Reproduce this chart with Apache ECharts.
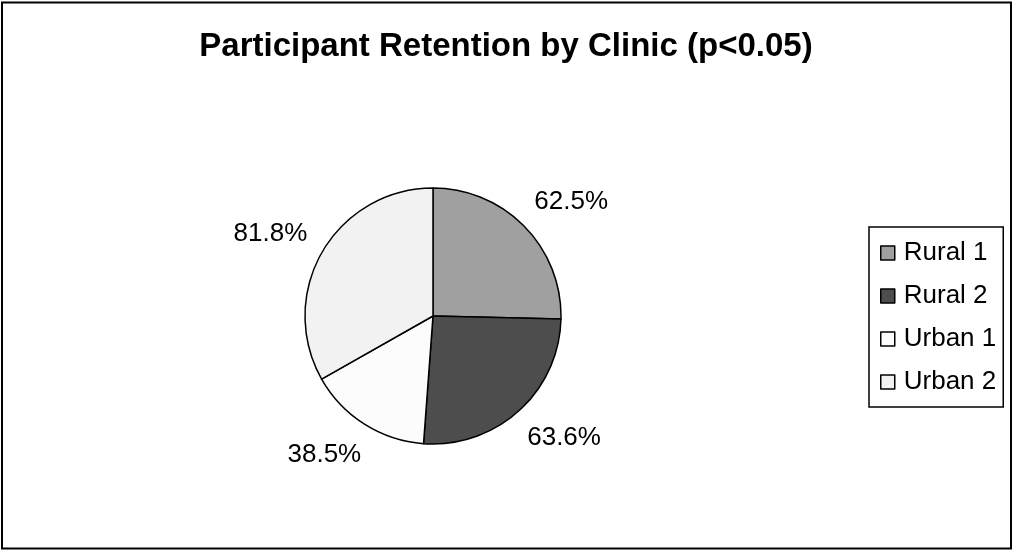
<!DOCTYPE html>
<html>
<head>
<meta charset="utf-8">
<title>Participant Retention by Clinic</title>
<script src="https://cdn.jsdelivr.net/npm/echarts@6/dist/echarts.min.js"></script>
<style>
  html, body { margin: 0; padding: 0; background: #fff; }
  #chart { width: 1012px; height: 550px; }
</style>
</head>
<body>
<div id="chart"></div>
<script>
// Retention rate (%) per clinic
const clinics = ['Rural 1', 'Rural 2', 'Urban 1', 'Urban 2'];
const retention = [62.5, 63.6, 38.5, 81.8];
const sliceColors = ['#a0a0a0', '#4d4d4d', '#fcfcfc', '#f2f2f2'];

const chart = echarts.init(document.getElementById('chart'), null, { renderer: 'canvas' });

const font = 'Liberation Sans, Arial, Helvetica, sans-serif';

chart.setOption({
  animation: false,
  backgroundColor: '#ffffff',
  title: {
    text: 'Participant Retention by Clinic (p<0.05)',
    left: 'center',
    top: 30,
    padding: 0,
    textStyle: { fontFamily: font, fontSize: 33, fontWeight: 'bold', color: '#000' }
  },
  legend: {
    orient: 'vertical',
    left: 869,
    top: 227,
    padding: [13, 7, 12, 11],
    itemWidth: 14,
    itemHeight: 14,
    itemGap: 17,
    icon: 'rect',
    borderColor: '#000',
    borderWidth: 1.5,
    borderRadius: 0,
    itemStyle: { borderColor: '#000', borderWidth: 1.5 },
    textStyle: { fontFamily: font, fontSize: 26, color: '#000', lineHeight: 26, padding: [0, 0, 0, 4] },
    data: clinics
  },
  graphic: [{
    type: 'rect',
    shape: { x: 2, y: 2.5, width: 1009, height: 546 },
    style: { fill: 'none', stroke: '#000', lineWidth: 2 },
    silent: true,
    z: 100
  }],
  series: [{
    type: 'pie',
    center: [433, 316],
    radius: 128,
    startAngle: 90,
    clockwise: true,
    avoidLabelOverlap: false,
    itemStyle: { borderColor: '#000', borderWidth: 1.5 },
    label: {
      show: true,
      position: 'outside',
      distanceToLabelLine: -16,
      formatter: p => p.value.toFixed(1) + '%',
      fontFamily: font,
      fontSize: 26,
      color: '#000'
    },
    labelLine: { show: false, length: 36, length2: 0 },
    emphasis: { disabled: true },
    data: clinics.map((name, i) => ({
      name,
      value: retention[i],
      itemStyle: { color: sliceColors[i] }
    }))
  }]
});
</script>
</body>
</html>
